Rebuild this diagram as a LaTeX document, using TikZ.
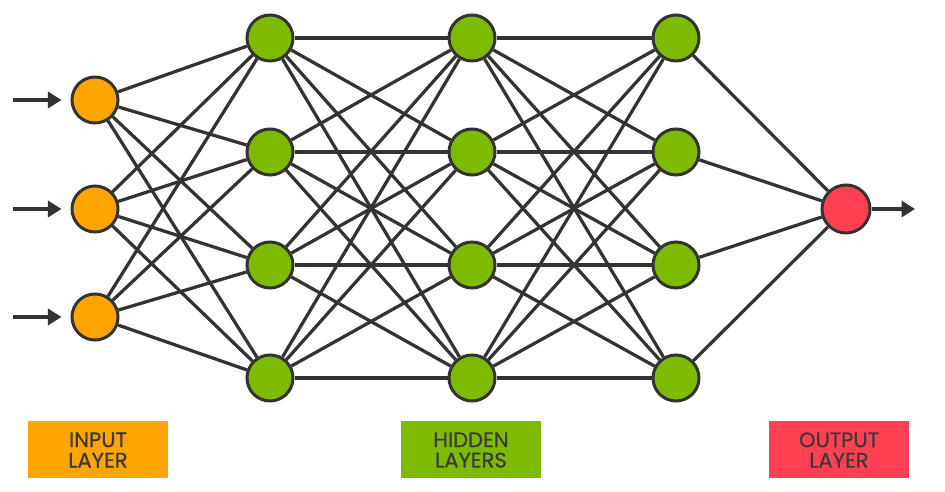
\documentclass[tikz,border=0pt]{standalone}
\usepackage{fontspec}
\setmainfont{Poppins}
\newfontfamily\labelfont{Poppins}[FakeBold=0.6]
\usetikzlibrary{arrows.meta,positioning}
\definecolor{inorange}{HTML}{FFA400}
\definecolor{hidgreen}{HTML}{7DBA00}
\definecolor{outred}{HTML}{FF4052}
\definecolor{linegray}{HTML}{333333}
\definecolor{textgray}{HTML}{3A3A3A}

\begin{document}
\begin{tikzpicture}[
    x=0.2mm, y=-0.2mm,
    neuron/.style={circle, draw=linegray, line width=0.6mm, minimum size=9.2mm, inner sep=0pt},
    link/.style={draw=linegray, line width=0.65mm},
    arrow/.style={-{Triangle[length=2.7mm,width=3.2mm]}, draw=linegray, line width=0.9mm},
    legend/.style={rectangle, minimum width=28mm, minimum height=11.4mm, align=center, text=textgray, font=\labelfont\fontsize{12}{11.6}\selectfont}
    ]
    \useasboundingbox (0,0) rectangle (945,492);

    % Capa de entrada
    \node[neuron, fill=inorange] (in1) at (95,100) {};
    \node[neuron, fill=inorange] (in2) at (95,209) {};
    \node[neuron, fill=inorange] (in3) at (95,317) {};

    % Capas ocultas
    \node[neuron, fill=hidgreen] (ha1) at (270,38) {};
    \node[neuron, fill=hidgreen] (ha2) at (270,152) {};
    \node[neuron, fill=hidgreen] (ha3) at (270,265) {};
    \node[neuron, fill=hidgreen] (ha4) at (270,378) {};

    \node[neuron, fill=hidgreen] (hb1) at (472,38) {};
    \node[neuron, fill=hidgreen] (hb2) at (472,152) {};
    \node[neuron, fill=hidgreen] (hb3) at (472,265) {};
    \node[neuron, fill=hidgreen] (hb4) at (472,378) {};

    \node[neuron, fill=hidgreen] (hc1) at (676,38) {};
    \node[neuron, fill=hidgreen] (hc2) at (676,152) {};
    \node[neuron, fill=hidgreen] (hc3) at (676,265) {};
    \node[neuron, fill=hidgreen] (hc4) at (676,378) {};

    % Capa de salida
    \node[neuron, fill=outred, minimum size=9.6mm] (out) at (846,209) {};

    % Conexiones entre capas
    \foreach \i in {1,2,3}
        \foreach \j in {1,...,4}
            \draw[link] (in\i) -- (ha\j);
    \foreach \i in {1,...,4}
        \foreach \j in {1,...,4} {
            \draw[link] (ha\i) -- (hb\j);
            \draw[link] (hb\i) -- (hc\j);
        }
    \foreach \i in {1,...,4}
        \draw[link] (hc\i) -- (out);

    % Flechas de entrada y salida
    \coordinate (src1) at (13,100);
    \coordinate (src2) at (13,209);
    \coordinate (src3) at (13,317);
    \coordinate (sink) at (915,209);
    \foreach \i in {1,2,3}
        \draw[arrow, shorten >=1.8mm] (src\i) -- (in\i);
    \draw[arrow] (out) -- (sink);

    % Etiquetas
    \node[legend, fill=inorange] (inlabel) at (98,450) {INPUT\\LAYER};
    \node[legend, fill=hidgreen] (hidlabel) at (471,450) {HIDDEN\\LAYERS};
    \node[legend, fill=outred] (outlabel) at (839,450) {OUTPUT\\LAYER};

\end{tikzpicture}
\end{document}
